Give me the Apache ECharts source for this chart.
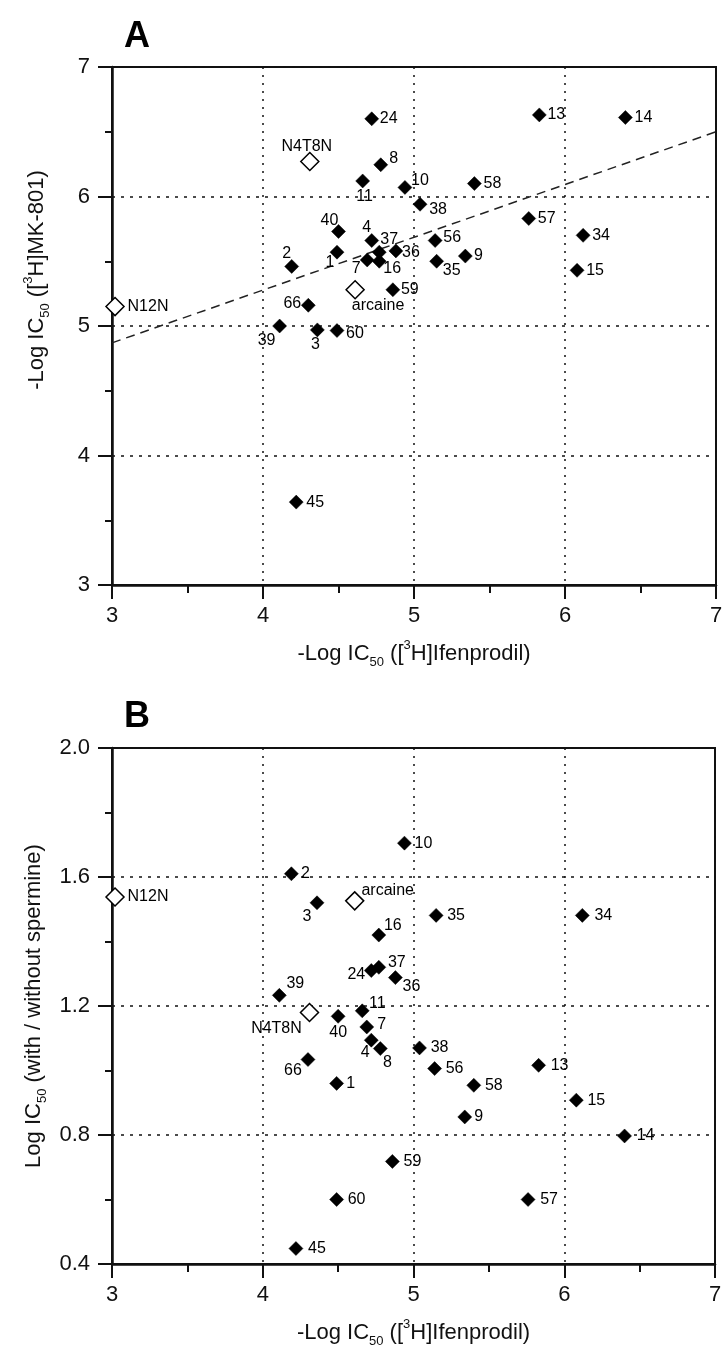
<!DOCTYPE html>
<html>
<head>
<meta charset="utf-8">
<script src="https://cdn.jsdelivr.net/npm/echarts@6/dist/echarts.min.js"></script>
<style>
html,body{margin:0;padding:0;background:#fff;}
#chart{width:726px;height:1361px;}
</style>
</head>
<body>
<div id="chart"></div>
<script>
// ---- data ----
const compounds   = ['1','2','3','4','7','8','9','10','11','13','14','15','16','24','34','35','36','37','38','39','40','45','56','57','58','59','60','66'];
const ifenprodil  = [4.49,4.19,4.36,4.72,4.69,4.78,5.34,4.94,4.66,5.83,6.40,6.08,4.77,4.72,6.12,5.15,4.88,4.77,5.04,4.11,4.50,4.22,5.14,5.76,5.40,4.86,4.49,4.30];
const mk801       = [5.57,5.46,4.97,5.66,5.51,6.245,5.54,6.07,6.12,6.63,6.61,5.43,5.50,6.60,5.70,5.50,5.58,5.57,5.94,5.00,5.73,3.64,5.66,5.83,6.10,5.28,4.965,5.16];
const spermine    = [0.96,1.61,1.52,1.094,1.135,1.068,0.856,1.705,1.185,1.016,0.797,0.908,1.42,1.31,1.481,1.481,1.288,1.32,1.07,1.233,1.168,0.448,1.006,0.60,0.954,0.718,0.60,1.034];

const refNames    = ['arcaine','N4T8N','N12N'];
const refIfen     = [4.61,4.31,3.02];
const refMk801    = [5.28,6.27,5.15];
const refSpermine = [1.526,1.18,1.538];

const fitX = [3, 7];
const fitY = [4.87, 6.50];

const xTicks = {min:3, max:7, interval:1};
const yTicksA = {min:3, max:7, interval:1};
const yTicksB = {min:0.4, max:2.0, interval:0.4};

// ---- label placement (style) : offset of label centre from marker centre ----
const offA = {'1':[-7,10],'2':[-5,-13],'3':[-2,15],'4':[-5,-13],'7':[-11,9],'8':[13,-6],'9':[13,0],'10':[15,-7],
  '11':[2,16],'13':[17,0],'14':[18,0],'15':[18,0],'16':[13,7],'24':[17,0],'34':[18,0],'35':[15,9],'36':[15,2],
  '37':[10,-13],'38':[18,5],'39':[-13,15],'40':[-9,-11],'45':[19,0],'56':[17,-3],'57':[18,0],'58':[18,0],'59':[17,0],
  '60':[18,3],'66':[-16,-2],'arcaine':[23,16],'N4T8N':[-3,-15],'N12N':[33,0]};
const offB = {'1':[14,0],'2':[14,0],'3':[-10,14],'4':[-6,12],'7':[15,-2],'8':[7,14],'9':[14,0],'10':[19,0],
  '11':[15,-7],'13':[21,0],'14':[21,0],'15':[20,0],'16':[14,-9],'24':[-15,4],'34':[21,0],'35':[20,0],'36':[16,9],
  '37':[18,-5],'38':[20,0],'39':[16,-12],'40':[0,16],'45':[21,0],'56':[20,0],'57':[21,0],'58':[20,0],'59':[20,0],
  '60':[20,0],'66':[-15,11],'arcaine':[33,-10],'N4T8N':[-33,16],'N12N':[33,0]};

const FONT = '"Liberation Sans", Arial, Helvetica, sans-serif';
const INK = '#111';

function pts(names, xs, ys, offs) {
  return names.map((n, i) => ({
    value: [xs[i], ys[i]],
    name: n,
    label: {offset: offs[n] || [15, 0]}
  }));
}

const richName = {
  sub: {fontSize: 13, lineHeight: 13, verticalAlign: 'bottom', fontFamily: FONT, color: INK},
  sup: {fontSize: 13, lineHeight: 13, verticalAlign: 'top', fontFamily: FONT, color: INK}
};

function xAxis(gridIndex) {
  return {
    type: 'value', gridIndex: gridIndex,
    min: xTicks.min, max: xTicks.max, interval: xTicks.interval,
    name: '-Log IC{sub|50} ([{sup|3}H]Ifenprodil)',
    nameLocation: 'middle', nameGap: 54,
    nameTextStyle: {fontSize: 22, lineHeight: 30, color: INK, fontFamily: FONT, rich: richName},
    axisLine: {show: true, onZero: false, lineStyle: {color: INK, width: 2.5}},
    axisTick: {show: true, inside: false, length: 14, lineStyle: {color: INK, width: 2}},
    minorTick: {show: true, splitNumber: 2, length: 8, lineStyle: {color: INK, width: 2}},
    axisLabel: {fontSize: 22, color: INK, fontFamily: FONT, margin: 20},
    splitLine: {show: true, lineStyle: {color: INK, width: 1.5, type: [2, 6]}}
  };
}

const yCommon = {
  type: 'value',
  nameLocation: 'middle', nameGap: 60,
  axisLine: {show: true, onZero: false, lineStyle: {color: INK, width: 2.5}},
  axisTick: {show: true, inside: false, length: 14, lineStyle: {color: INK, width: 2}},
  minorTick: {show: true, splitNumber: 2, length: 7, lineStyle: {color: INK, width: 2}},
  splitLine: {show: true, lineStyle: {color: INK, width: 1.5, type: [3, 6]}}
};

const filledStyle = {color: '#000', borderColor: '#000', borderWidth: 0.5, opacity: 1};
const openStyle = {color: '#fff', borderColor: '#000', borderWidth: 1.5, opacity: 1};
const labelStyle = {show: true, position: 'inside', formatter: '{b}', fontSize: 16, color: '#000',
  fontFamily: FONT, align: 'center', verticalAlign: 'middle', opacity: 1};

const option = {
  backgroundColor: '#fff',
  animation: false,
  title: [
    {text: 'A', left: 119, top: 14, textStyle: {fontSize: 36, fontWeight: 'bold', color: '#000', fontFamily: FONT}},
    {text: 'B', left: 119, top: 694, textStyle: {fontSize: 36, fontWeight: 'bold', color: '#000', fontFamily: FONT}}
  ],
  grid: [
    {left: 112, top: 67, width: 604, height: 518, show: true, borderColor: INK, borderWidth: 2, backgroundColor: 'transparent'},
    {left: 112, top: 748, width: 603, height: 516, show: true, borderColor: INK, borderWidth: 2, backgroundColor: 'transparent'}
  ],
  xAxis: [xAxis(0), xAxis(1)],
  yAxis: [
    Object.assign({}, yCommon, {
      gridIndex: 0, min: yTicksA.min, max: yTicksA.max, interval: yTicksA.interval,
      name: '-Log IC{sub|50} ([{sup|3}H]MK-801)',
      nameTextStyle: {fontSize: 22, lineHeight: 30, color: INK, fontFamily: FONT, rich: richName, padding: [0, 0, 0, 92]},
      axisLabel: {fontSize: 22, color: INK, fontFamily: FONT, margin: 22}
    }),
    Object.assign({}, yCommon, {
      gridIndex: 1, min: yTicksB.min, max: yTicksB.max, interval: yTicksB.interval,
      name: 'Log IC{sub|50} (with / without spermine)',
      nameTextStyle: {fontSize: 22, lineHeight: 30, color: INK, fontFamily: FONT, rich: richName},
      axisLabel: {fontSize: 22, color: INK, fontFamily: FONT, margin: 22, formatter: v => v.toFixed(1)}
    })
  ],
  series: [
    {
      type: 'line', xAxisIndex: 0, yAxisIndex: 0, z: 1,
      data: fitX.map((x, i) => [x, fitY[i]]),
      symbol: 'none', silent: true,
      lineStyle: {color: '#222', width: 1.5, type: [9, 6]}
    },
    {
      type: 'scatter', xAxisIndex: 0, yAxisIndex: 0, z: 3,
      symbol: 'diamond', symbolSize: 14,
      itemStyle: filledStyle, label: labelStyle,
      data: pts(compounds, ifenprodil, mk801, offA)
    },
    {
      type: 'scatter', xAxisIndex: 0, yAxisIndex: 0, z: 3,
      symbol: 'diamond', symbolSize: 18,
      itemStyle: openStyle, label: labelStyle,
      data: pts(refNames, refIfen, refMk801, offA)
    },
    {
      type: 'scatter', xAxisIndex: 1, yAxisIndex: 1, z: 3,
      symbol: 'diamond', symbolSize: 14,
      itemStyle: filledStyle, label: labelStyle,
      data: pts(compounds, ifenprodil, spermine, offB)
    },
    {
      type: 'scatter', xAxisIndex: 1, yAxisIndex: 1, z: 3,
      symbol: 'diamond', symbolSize: 18,
      itemStyle: openStyle, label: labelStyle,
      data: pts(refNames, refIfen, refSpermine, offB)
    }
  ]
};

const chart = echarts.init(document.getElementById('chart'), null, {renderer: 'canvas'});
chart.setOption(option);
</script>
</body>
</html>
